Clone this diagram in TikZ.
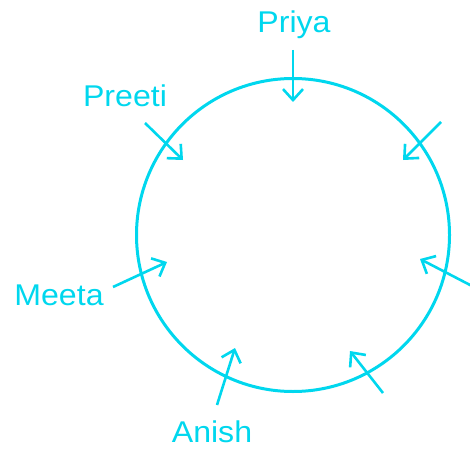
\documentclass[tikz,border=0pt]{standalone}
\usepackage{fontspec}
\setmainfont{Liberation Sans}
\usetikzlibrary{arrows.meta}
\definecolor{seat}{RGB}{0,215,238}

\begin{document}
\begin{tikzpicture}[x=1pt, y=-1pt,
  ring/.style={circle, draw=seat, line width=3pt, minimum size=313pt, inner sep=0pt},
  arrow/.style={-{Straight Barb[length=11pt, width=20pt]}, draw=seat, line width=2.6pt},
  lbl/.style={text=seat, font=\fontsize{30}{32}\selectfont, inner sep=0pt, anchor=base, xscale=1.07}
]
  \useasboundingbox (0,0) rectangle (470,449);

  % ── round table ──
  \node[ring] (table) at (293,235) {};

  % ── names ──
  \node[lbl] (priya) at (294,33) {Priya};
  \node[lbl] (preeti) at (125,107) {Preeti};
  \node[lbl] (meeta) at (59,305) {Meeta};
  \node[lbl] (anish) at (212,442) {Anish};

  % ── arrow ends ──
  \coordinate (sPriya) at (293,50);   \coordinate (tPriya) at (293,102);
  \coordinate (sPreeti) at (145,123); \coordinate (tPreeti) at (183,160);
  \coordinate (sMeeta) at (113,287);  \coordinate (tMeeta) at (167,262);
  \coordinate (sAnish) at (217,405);  \coordinate (tAnish) at (235,348);
  \coordinate (sLowR) at (383,393);   \coordinate (tLowR) at (350,351);
  \coordinate (sUpR) at (441,122);    \coordinate (tUpR) at (403,160);
  \coordinate (sRight) at (472,286);  \coordinate (tRight) at (420,259);

  \draw[arrow] (sPriya) -- (tPriya);
  \draw[arrow] (sPreeti) -- (tPreeti);
  \draw[arrow] (sMeeta) -- (tMeeta);
  \draw[arrow] (sAnish) -- (tAnish);
  \draw[arrow] (sLowR) -- (tLowR);
  \draw[arrow] (sUpR) -- (tUpR);
  \draw[arrow] (sRight) -- (tRight);
\end{tikzpicture}
\end{document}
